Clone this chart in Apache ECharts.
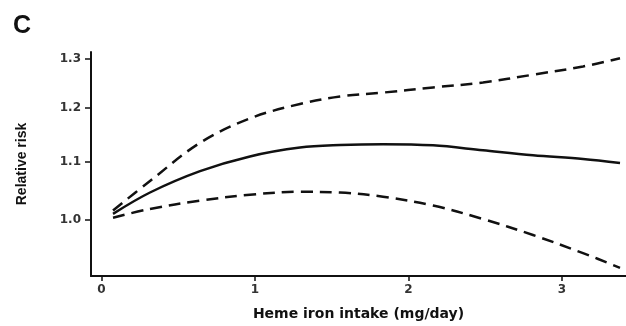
<!DOCTYPE html>
<html>
<head>
<meta charset="utf-8">
<script src="https://cdn.jsdelivr.net/npm/echarts@6/dist/echarts.min.js"></script>
<style>
html,body{margin:0;padding:0;background:#fff;}
#chart{width:626px;height:326px;}
</style>
</head>
<body>
<div id="chart"></div>
<script>
// Heme iron intake (mg/day)
const intake = [0.075, 0.316, 0.642, 0.967, 1.293, 1.554, 1.834, 2.16, 2.485, 2.811, 3.137, 3.378];
// Relative risk estimate and 95% CI bounds
const rrEstimate = [1.0101, 1.0458, 1.0828, 1.1091, 1.1252, 1.1298, 1.1314, 1.1293, 1.1203, 1.1114, 1.1043, 1.0973];
const rrUpper    = [1.0156, 1.0656, 1.134, 1.180, 1.208, 1.2228, 1.2306, 1.241, 1.251, 1.267, 1.284, 1.3015];
const rrLower    = [1.0037, 1.0182, 1.032, 1.042, 1.047, 1.0458, 1.0386, 1.0238, 1.0016, 0.9758, 0.9475, 0.925];
const xTicks = [0, 1, 2, 3];
const yTicks = [1.0, 1.1, 1.2, 1.3];

const toLog = v => Math.log(v);
const pairs = (xs, ys) => xs.map((x, i) => [x, toLog(ys[i])]);

const chart = echarts.init(document.getElementById('chart'), null, {renderer: 'canvas'});
const lineBase = {type: 'line', symbol: 'none', smooth: 0.35, silent: true};
chart.setOption({
  animation: false,
  title: {
    text: 'C', left: 8, top: 9,
    textStyle: {fontFamily: 'Liberation Sans', fontWeight: 'bold', fontSize: 25, color: '#111'}
  },
  grid: {left: 91, right: 0, top: 52, bottom: 46, containLabel: false},
  xAxis: {
    type: 'value', min: -0.0684, max: 3.417,
    name: 'Heme iron intake (mg/day)', nameLocation: 'middle', nameGap: 31,
    nameTextStyle: {fontFamily: 'DejaVu Sans', fontWeight: 'bold', fontSize: 14, color: '#111'},
    axisLine: {show: true, onZero: false, lineStyle: {color: '#111', width: 2}},
    axisTick: {show: true, customValues: xTicks, length: 5, lineStyle: {color: '#111', width: 1.5}},
    axisLabel: {customValues: xTicks, margin: 8, fontFamily: 'DejaVu Sans', fontWeight: 'bold', fontSize: 12, color: '#333'},
    splitLine: {show: false}
  },
  yAxis: {
    type: 'value', min: -0.0912, max: 0.2736,
    name: 'Relative risk', nameLocation: 'middle', nameGap: 62, nameRotate: 90,
    nameTextStyle: {fontFamily: 'Liberation Sans', fontWeight: 'bold', fontSize: 14, color: '#111'},
    axisLine: {show: true, onZero: false, lineStyle: {color: '#111', width: 2}},
    axisTick: {show: true, customValues: yTicks.map(toLog), length: 6, lineStyle: {color: '#111', width: 1.5}},
    axisLabel: {customValues: yTicks.map(toLog), margin: 10, fontFamily: 'DejaVu Sans', fontWeight: 'bold', fontSize: 12, color: '#333',
      formatter: v => Math.exp(v).toFixed(1)},
    splitLine: {show: false}
  },
  series: [
    Object.assign({}, lineBase, {name: 'Upper', data: pairs(intake, rrUpper),
      lineStyle: {color: '#111', width: 2.5, type: [12, 7]}}),
    Object.assign({}, lineBase, {name: 'Estimate', data: pairs(intake, rrEstimate),
      lineStyle: {color: '#111', width: 2.5}}),
    Object.assign({}, lineBase, {name: 'Lower', data: pairs(intake, rrLower),
      lineStyle: {color: '#111', width: 2.5, type: [12, 7]}})
  ]
});
</script>
</body>
</html>
